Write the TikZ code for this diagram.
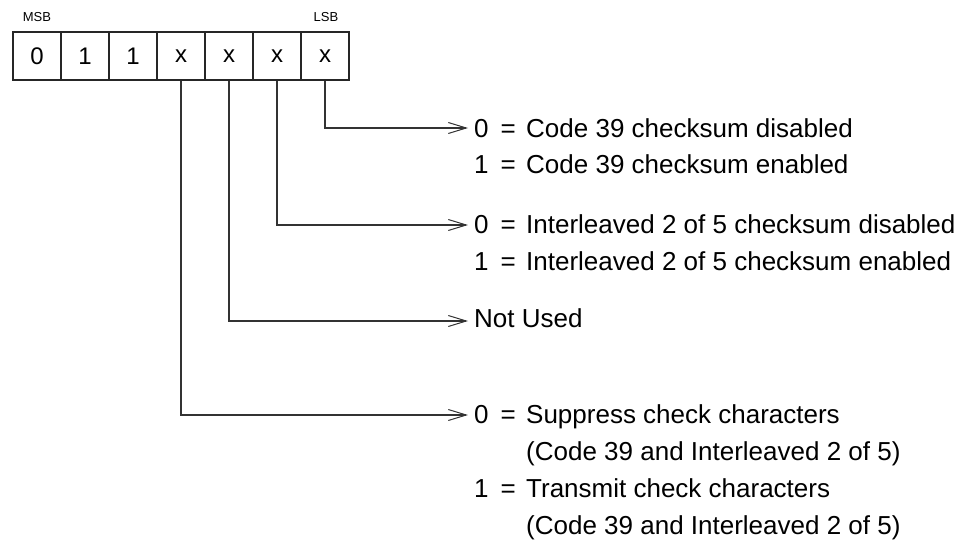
\documentclass[tikz,border=0pt]{standalone}
\usepackage{fontspec}
\setmainfont{Liberation Sans}
\usetikzlibrary{arrows.meta}
\begin{document}
\begin{tikzpicture}[x=1pt,y=-1pt,
  cell/.style={draw=black!85,line width=1.2pt,minimum width=48pt,minimum height=48pt,inner sep=0pt,
    font=\fontsize{24}{24}\selectfont},
  tag/.style={font=\fontsize{13}{13}\selectfont,inner sep=0pt},
  lbl/.style={anchor=base west,inner sep=0pt,font=\fontsize{26}{26}\selectfont},
  wire/.style={draw=black!80,line width=1.1pt,-{Straight Barb[length=18pt,width=11pt,line width=1pt]}}]
\useasboundingbox (0,0) rectangle (970,546);
\foreach \i/\v in {0/0,1/1,2/1,3/x,4/x,5/x,6/x}{
  \node[cell] (c\i) at (37+48*\i,56) {\v};
}
\node[tag] (msb) at (37,17) {MSB};
\node[tag] (lsb) at (326,17) {LSB};
% arrow tips
\coordinate (t1) at (468,128);
\coordinate (t2) at (468,225);
\coordinate (t3) at (468,321);
\coordinate (t4) at (468,415);
\draw[wire] (c6.south) |- (t1);
\draw[wire] (c5.south) |- (t2);
\draw[wire] (c4.south) |- (t3);
\draw[wire] (c3.south) |- (t4);
% texts
\newcommand\eqrow[2]{\makebox[52pt][l]{#1\hspace{12pt}=}#2}
\newcommand\indrow[1]{\hspace*{52pt}#1}
\node[lbl] (a0) at (474,137) {\eqrow{0}{Code 39 checksum disabled}};
\node[lbl] (a1) at (474,173) {\eqrow{1}{Code 39 checksum enabled}};
\node[lbl] (b0) at (474,233) {\eqrow{0}{Interleaved 2 of 5 checksum disabled}};
\node[lbl] (b1) at (474,270) {\eqrow{1}{Interleaved 2 of 5 checksum enabled}};
\node[lbl] (nu) at (474,327) {Not Used};
\node[lbl] (d0) at (474,423) {\eqrow{0}{Suppress check characters}};
\node[lbl] (d0c) at (474,460) {\indrow{(Code 39 and Interleaved 2 of 5)}};
\node[lbl] (d1) at (474,497) {\eqrow{1}{Transmit check characters}};
\node[lbl] (d1c) at (474,534) {\indrow{(Code 39 and Interleaved 2 of 5)}};
\end{tikzpicture}
\end{document}
